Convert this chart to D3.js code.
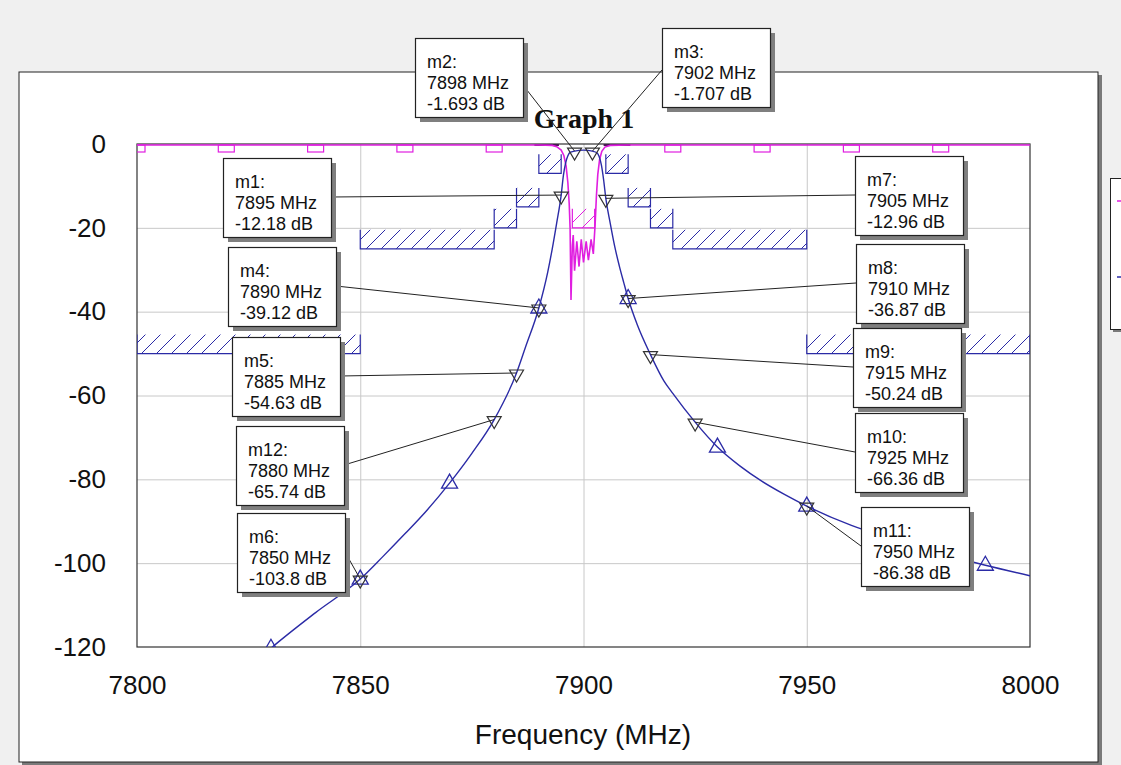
<!DOCTYPE html>
<html>
<head>
<meta charset="utf-8">
<script src="https://cdn.jsdelivr.net/npm/d3@7"></script>
<style>
  body { margin: 0; background: #f0f0f0; }
  svg { display: block; }
  text { font-family: "Liberation Sans", Arial, sans-serif; fill: #111; }
</style>
</head>
<body>
<div id="chart"></div>
<script>
/* DATA */
// S21 trace (blue), frequency in MHz and level in dB
const s21Freq = [7820, 7825, 7830, 7840, 7850, 7855, 7860, 7865, 7870, 7875, 7880, 7885, 7887, 7890, 7892, 7893, 7894, 7895, 7895.5, 7896, 7896.5, 7897, 7898, 7900, 7902, 7903, 7903.5, 7904, 7904.5, 7905, 7906, 7907, 7908, 7909, 7910, 7912, 7915, 7918, 7920, 7925, 7930, 7935, 7940, 7945, 7950, 7960, 7970, 7980, 7990, 8000];
const s21Db = [-131, -125, -120.3, -111.8, -103.8, -98.5, -93, -87.3, -80.9, -73.8, -65.74, -54.63, -48.5, -39.12, -30.5, -25, -18.8, -12.18, -7.5, -4.5, -2.8, -2.0, -1.693, -1.45, -1.707, -2.1, -3, -5, -8.5, -12.96, -19, -24.5, -29, -33, -36.87, -43, -50.24, -56.5, -59.5, -66.36, -72.3, -76.8, -80.5, -83.6, -86.38, -91, -94.5, -97.7, -100.5, -103];

// S11 trace (magenta)
const s11Freq = [7800, 7890, 7893, 7894, 7895, 7895.6, 7896.1, 7896.5, 7896.8, 7897.0, 7897.2, 7897.5, 7897.7, 7898.0, 7898.5, 7899.0, 7899.5, 7900.0, 7900.6, 7901.1, 7901.7, 7902.2, 7902.6, 7902.9, 7903.2, 7903.6, 7904.1, 7904.8, 7906, 7910, 8000];
const s11Db = [0, 0, -0.1, -0.4, -1.2, -2.5, -5, -9, -14, -20, -37, -24, -21.5, -30, -23, -29, -22.5, -28, -23, -27.5, -22.5, -26, -19, -12, -7, -3.5, -1.5, -0.5, -0.1, 0, 0];

// trace symbols
const s21SymFreq = [7830, 7850, 7870, 7890, 7910, 7930, 7950, 7970, 7990];
const s21SymDb = [-120.3, -103.8, -80.9, -39.12, -36.87, -72.3, -86.38, -94.5, -100.5];
const s11SymFreq = [7800, 7820, 7840, 7860, 7880, 7920, 7940, 7960, 7980];

// S21 rejection mask: [start MHz, end MHz, limit dB]
const s21Mask = [
  [7800, 7850, -50], [7850, 7880, -25], [7880, 7885, -20], [7885, 7890, -15], [7890, 7895, -7],
  [7905, 7910, -7], [7910, 7915, -15], [7915, 7920, -20], [7920, 7950, -25], [7950, 8000, -50]
];
// S11 mask
const s11Mask = [[7897.5, 7902.5, -20]];
const passLines = [[7889, 7894.5, 0], [7904.5, 7910.5, 0]];

// markers
const markerNames = ["m1", "m2", "m3", "m4", "m5", "m6", "m7", "m8", "m9", "m10", "m11", "m12"];
const markerFreq = [7895, 7898, 7902, 7890, 7885, 7850, 7905, 7910, 7915, 7925, 7950, 7880];
const markerDb = [-12.18, -1.693, -1.707, -39.12, -54.63, -103.8, -12.96, -36.87, -50.24, -66.36, -86.38, -65.74];
const markerText = ["-12.18", "-1.693", "-1.707", "-39.12", "-54.63", "-103.8", "-12.96", "-36.87", "-50.24", "-66.36", "-86.38", "-65.74"];

const xTicks = [7800, 7850, 7900, 7950, 8000];
const yTicks = [0, -20, -40, -60, -80, -100, -120];

/* LAYOUT */
const W = 1121, H = 765;
const plot = { left: 137, right: 1030, top: 144, bottom: 647 };
const blue = "#2b2ba6", magenta = "#e01ee0";
const boxW = 108, boxH = 79;
// callout box top-left corners and which side the leader leaves from
const boxPos = {
  m1: [223, 158, "r"], m2: [415, 38, "r"], m3: [662, 28, "l"], m4: [228, 247, "r"],
  m5: [232, 337, "r"], m6: [237, 513, "r"], m7: [855, 156, "l"], m8: [856, 244, "l"],
  m9: [853, 328, "l"], m10: [855, 413, "l"], m11: [861, 507, "l"], m12: [236, 426, "r"]
};

const svg = d3.select("#chart").append("svg").attr("width", W).attr("height", H);

const defs = svg.append("defs");
defs.append("clipPath").attr("id", "plotClip").append("rect")
  .attr("x", plot.left).attr("y", plot.top - 2)
  .attr("width", plot.right - plot.left).attr("height", plot.bottom - plot.top + 2);

function hatch(id, color) {
  const p = defs.append("pattern").attr("id", id)
    .attr("patternUnits", "userSpaceOnUse").attr("width", 15).attr("height", 15);
  p.append("path").attr("d", "M0,15 L15,0 M-2,2 L2,-2 M13,17 L17,13")
    .attr("stroke", color).attr("stroke-width", 1).attr("fill", "none");
}
hatch("hatchBlue", blue);
hatch("hatchMag", magenta);

// outer panel with shadow
svg.append("rect").attr("x", 22).attr("y", 75).attr("width", 1080).attr("height", 690).attr("fill", "#7a7a7a");
svg.append("rect").attr("x", 19).attr("y", 72).attr("width", 1079).attr("height", 690)
  .attr("fill", "#fff").attr("stroke", "#222").attr("stroke-width", 1);

// legend box (mostly off-screen)
svg.append("rect").attr("x", 1113).attr("y", 181).attr("width", 60).attr("height", 151).attr("fill", "#7a7a7a");
svg.append("rect").attr("x", 1110.5).attr("y", 178.5).attr("width", 60).attr("height", 151)
  .attr("fill", "#fff").attr("stroke", "#222");
svg.append("line").attr("x1", 1117).attr("x2", 1125).attr("y1", 201).attr("y2", 201).attr("stroke", magenta).attr("stroke-width", 1.5);
svg.append("line").attr("x1", 1117).attr("x2", 1125).attr("y1", 277).attr("y2", 277).attr("stroke", blue).attr("stroke-width", 1.5);

/* SCALES */
const x = d3.scaleLinear().domain([7800, 8000]).range([plot.left, plot.right]);
const y = d3.scaleLinear().domain([-120, 0]).range([plot.bottom, plot.top]);

// grid
svg.append("g").attr("transform", `translate(0,${plot.bottom})`)
  .call(d3.axisBottom(x).tickValues(xTicks.slice(1, -1)).tickSize(-(plot.bottom - plot.top)).tickFormat(""))
  .call(g => g.select(".domain").remove())
  .call(g => g.selectAll("line").attr("stroke", "#c8c8c8"));
svg.append("g").attr("transform", `translate(${plot.left},0)`)
  .call(d3.axisLeft(y).tickValues(yTicks.slice(1, -1)).tickSize(-(plot.right - plot.left)).tickFormat(""))
  .call(g => g.select(".domain").remove())
  .call(g => g.selectAll("line").attr("stroke", "#c8c8c8"));

// plot frame
svg.append("rect").attr("x", plot.left).attr("y", plot.top)
  .attr("width", plot.right - plot.left).attr("height", plot.bottom - plot.top)
  .attr("fill", "none").attr("stroke", "#333").attr("stroke-width", 1.2);

// axes labels (plain hyphen minus like the original)
svg.append("g").attr("transform", `translate(0,${plot.bottom})`)
  .call(d3.axisBottom(x).tickValues(xTicks).tickSize(0).tickPadding(29).tickFormat(d => String(d)))
  .call(g => g.select(".domain").remove())
  .call(g => g.selectAll("text").attr("font-size", 26).attr("font-family", "Liberation Sans, Arial"));
svg.append("g").attr("transform", `translate(${plot.left},0)`)
  .call(d3.axisLeft(y).tickValues(yTicks).tickSize(0).tickPadding(31).tickFormat(d => String(d)))
  .call(g => g.select(".domain").remove())
  .call(g => g.selectAll("text").attr("font-size", 26).attr("font-family", "Liberation Sans, Arial"));

svg.append("text").attr("x", 583).attr("y", 744)
  .attr("text-anchor", "middle").attr("font-size", 28).text("Frequency (MHz)");

svg.append("text").attr("x", 584).attr("y", 128).attr("text-anchor", "middle")
  .style("font-family", "Liberation Serif, 'Times New Roman', serif").attr("font-weight", "bold")
  .attr("font-size", 28).text("Graph 1");

const clipped = svg.append("g").attr("clip-path", "url(#plotClip)");

/* MASKS */
function drawMask(data, fillId, color) {
  const hh = 19;
  const g = clipped.append("g");
  g.selectAll("rect.hatch").data(data).join("rect")
    .attr("x", d => x(d[0])).attr("y", d => y(d[2]) - hh)
    .attr("width", d => x(d[1]) - x(d[0])).attr("height", hh)
    .attr("fill", `url(#${fillId})`);
  g.selectAll("path.edge").data(data).join("path")
    .attr("d", d => `M${x(d[0])},${y(d[2]) - hh} V${y(d[2])} H${x(d[1])} V${y(d[2]) - hh}`)
    .attr("fill", "none").attr("stroke", color).attr("stroke-width", 1.2);
}
drawMask(s21Mask, "hatchBlue", blue);
drawMask(s11Mask, "hatchMag", magenta);

clipped.selectAll("line.pass").data(passLines).join("line")
  .attr("x1", d => x(d[0])).attr("x2", d => x(d[1]))
  .attr("y1", d => y(d[2]) + 1).attr("y2", d => y(d[2]) + 1)
  .attr("stroke", "#4a1a55").attr("stroke-width", 2);

/* TRACES */
const line = d3.line().x(d => x(d[0])).y(d => y(d[1])).curve(d3.curveMonotoneX);
const s11 = s11Freq.map((f, i) => [f, s11Db[i]]);
const s21 = s21Freq.map((f, i) => [f, s21Db[i]]);

clipped.append("path").datum(s11).attr("d", d3.line().x(d => x(d[0])).y(d => y(d[1]) + 1))
  .attr("fill", "none").attr("stroke", magenta).attr("stroke-width", 1.6);
clipped.append("path").datum(s21).attr("d", line)
  .attr("fill", "none").attr("stroke", blue).attr("stroke-width", 1.4);

// symbols
clipped.selectAll("rect.sq").data(s11SymFreq).join("rect")
  .attr("x", d => x(d) - 8).attr("y", y(0) + 1).attr("width", 16).attr("height", 7)
  .attr("fill", "none").attr("stroke", magenta).attr("stroke-width", 1.2);

clipped.selectAll("path.tri").data(s21SymFreq.map((f, i) => [f, s21SymDb[i]])).join("path")
  .attr("d", d => { const cx = x(d[0]), cy = y(d[1]); return `M${cx},${cy - 9} L${cx - 8},${cy + 5} L${cx + 8},${cy + 5} Z`; })
  .attr("fill", "none").attr("stroke", blue).attr("stroke-width", 1.3);

/* MARKERS */
const markers = markerNames.map((n, i) => ({ name: n, f: markerFreq[i], db: markerDb[i], txt: markerText[i] }));

svg.selectAll("line.leader").data(markers).join("line")
  .attr("x1", d => boxPos[d.name][2] === "r" ? boxPos[d.name][0] + boxW : boxPos[d.name][0])
  .attr("y1", d => boxPos[d.name][1] + (d.name === "m2" ? 47 : d.name === "m3" ? 42 : 39))
  .attr("x2", d => x(d.f)).attr("y2", d => y(d.db))
  .attr("stroke", "#222").attr("stroke-width", 1);

svg.selectAll("path.mk").data(markers).join("path")
  .attr("d", d => { const cx = x(d.f), cy = y(d.db); return `M${cx - 7},${cy - 3} L${cx + 7},${cy - 3} L${cx},${cy + 9} Z`; })
  .attr("fill", "none").attr("stroke", "#333").attr("stroke-width", 1.2);

const boxes = svg.selectAll("g.box").data(markers).join("g")
  .attr("transform", d => `translate(${boxPos[d.name][0]},${boxPos[d.name][1]})`);
boxes.append("rect").attr("x", 5).attr("y", 5).attr("width", boxW).attr("height", boxH).attr("fill", "#7f7f7f");
boxes.append("rect").attr("x", 0.5).attr("y", 0.5).attr("width", boxW).attr("height", boxH)
  .attr("fill", "#fff").attr("stroke", "#222").attr("stroke-width", 1.2);
boxes.append("text").attr("x", 12).attr("y", 30).attr("font-size", 18).text(d => d.name + ":");
boxes.append("text").attr("x", 12).attr("y", 51).attr("font-size", 18).text(d => d.f + " MHz");
boxes.append("text").attr("x", 12).attr("y", 72).attr("font-size", 18).text(d => d.txt + " dB");
</script>
</body>
</html>
